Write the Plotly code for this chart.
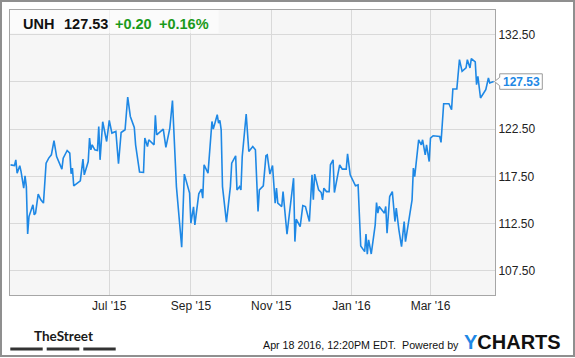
import pandas as pd
import plotly.graph_objects as go

# ---- data (UNH daily close) ----
base_date = "2015-04-16"
day_offsets = [1, 4, 5, 6, 8, 9, 11, 12, 13, 14, 15, 18, 19, 20, 22, 24, 26, 28, 30, 32,
               34, 36, 40, 41, 44, 46, 47, 48, 49, 54, 56, 57, 60, 61, 62, 63, 65, 67, 68, 69,
               71, 74, 76, 78, 81, 83, 85, 88, 90, 92, 95, 96, 99, 102, 103, 105, 106, 110, 111, 112,
               117, 119, 122, 124, 127, 131, 133, 137, 138, 140, 141, 144, 146, 147, 148, 151, 154, 155, 158, 159,
               160, 161, 162, 165, 168, 169, 172, 173, 175, 176, 177, 180, 182, 185, 187, 189, 190, 193, 195, 196,
               198, 200, 202, 203, 204, 207, 208, 211, 216, 217, 218, 221, 223, 225, 228, 230, 231, 232, 235, 237,
               238, 239, 241, 243, 244, 246, 247, 249, 251, 253, 256, 257, 259, 263, 265, 267, 270, 271, 272, 273,
               275, 278, 279, 280, 281, 284, 285, 286, 287, 289, 291, 293, 294, 296, 298, 300, 301, 304, 306, 307,
               308, 311, 313, 314, 316, 317, 319, 320, 322, 327, 328, 330, 334, 336, 337, 340, 342, 344, 347, 348,
               350, 351, 354, 355, 356, 358, 362, 364, 365, 368]
prices = [118.72, 118.65, 119.25, 117.84, 118.62, 118.01, 116.25, 117.56, 116.42, 111.41,
          113.25, 114.49, 113.43, 113.61, 115.62, 115.02, 114.67, 118.90, 119.43, 119.78,
          121.27, 119.60, 118.27, 119.43, 120.24, 119.96, 117.77, 118.37, 116.50, 117.03,
          119.33, 117.66, 119.07, 121.55, 120.31, 120.84, 120.31, 120.24, 122.78, 119.25,
          123.28, 121.19, 123.42, 122.08, 122.25, 118.83, 122.14, 122.43, 125.89, 123.84,
          122.67, 120.84, 117.95, 117.91, 121.55, 120.66, 121.37, 120.84, 123.95, 121.90,
          122.50, 120.56, 122.61, 125.53, 116.42, 110.00, 117.74, 115.73, 112.55, 114.27,
          112.37, 115.65, 116.15, 115.20, 118.72, 117.84, 123.31, 122.50, 124.02, 123.14,
          123.42, 122.43, 116.42, 112.65, 116.42, 118.90, 119.68, 116.07, 116.42, 116.07,
          119.60, 124.09, 120.13, 120.66, 120.31, 113.78, 116.07, 116.50, 119.68, 119.78,
          117.74, 118.65, 114.67, 116.25, 114.67, 114.31, 115.89, 111.38, 117.31, 110.60,
          112.97, 112.19, 114.41, 114.31, 112.72, 117.66, 115.02, 117.74, 116.07, 115.79,
          115.02, 116.25, 115.89, 115.89, 118.72, 119.25, 115.79, 117.48, 118.72, 118.27,
          118.27, 119.89, 117.66, 116.50, 116.60, 110.14, 109.54, 111.41, 109.26, 110.78,
          109.29, 112.37, 114.73, 113.61, 114.31, 113.78, 113.61, 114.31, 111.49, 115.37,
          115.89, 112.72, 114.14, 111.84, 110.07, 112.72, 110.60, 113.25, 115.02, 118.37,
          117.48, 121.37, 120.84, 121.37, 119.78, 120.84, 119.07, 121.55, 121.80, 121.72,
          121.09, 125.18, 125.18, 124.55, 126.74, 126.74, 129.85, 128.61, 128.97, 129.85,
          128.97, 129.95, 129.60, 127.20, 128.08, 125.79, 126.67, 127.91, 127.38, 127.53]

ticker = "UNH"
last_price = prices[-1]
change = "+0.20"
change_pct = "+0.16%"
timestamp_text = "Apr 18 2016, 12:20PM EDT.  Powered by"
x_tick_dates = ["2015-07-01", "2015-09-01", "2015-11-01", "2016-01-01", "2016-03-01"]
x_tick_labels = ["Jul '15", "Sep '15", "Nov '15", "Jan '16", "Mar '16"]
y_tick_values = [107.5, 112.5, 117.5, 122.5, 127.5, 132.5]
x_range = ["2015-04-16 14:00", "2016-04-19 00:00"]
y_range = [104.95, 135.1]

dates = pd.Timestamp(base_date) + pd.to_timedelta(day_offsets, unit="D")
# the last-value flag covers the tick label it sits on
y_tick_text = ["" if abs(v - last_price) < 2 else f"{v:.2f}" for v in y_tick_values]

BLUE = "#1e88e5"
GREEN = "#1a9a1a"
FONT = "Liberation Sans, Arial, sans-serif"

W, H = 575, 358
L, R, T, B = 10, 80, 10, 63
PW, PH = W - L - R, H - T - B


def px_x(px):
    return (px - L) / PW


def px_y(py):
    return (H - B - py) / PH


fig = go.Figure()
fig.add_trace(go.Scatter(x=dates, y=prices, mode="lines",
                         line=dict(color=BLUE, width=1.6), hoverinfo="skip",
                         showlegend=False))

units_per_px = (y_range[1] - y_range[0]) / PH
hb = 7.75 * units_per_px
hc = 4.2 * units_per_px
xl, xt, xr = px_x(499.7), px_x(494.5), px_x(542.3)
yc = last_price
path = (f"M {xl},{yc + hc} L {xt},{yc} L {xl},{yc - hc} L {xl},{yc - hb} "
        f"L {xr},{yc - hb} L {xr},{yc + hb} L {xl},{yc + hb} Z")

shapes = [
    # header box
    dict(type="rect", xref="paper", yref="paper", x0=0, x1=px_x(218.5),
         y0=px_y(33.3), y1=1, fillcolor="rgba(255,255,255,0.6)", line=dict(width=0),
         layer="above"),
    # last value label box
    dict(type="path", xref="paper", yref="y", path=path, fillcolor="white",
         line=dict(color="#9a9a9a", width=1), layer="above"),
    # outer border
    dict(type="rect", xref="paper", yref="paper", x0=px_x(1), x1=px_x(574),
         y0=px_y(356), y1=px_y(1), line=dict(color="#8f8f8f", width=2),
         fillcolor="rgba(0,0,0,0)", layer="above"),
]
# TheStreet bars
for a, b in [(10.3, 42.7), (46.7, 79.3), (83.3, 115.7)]:
    shapes.append(dict(type="rect", xref="paper", yref="paper", x0=px_x(a), x1=px_x(b),
                       y0=px_y(350.5), y1=px_y(347.5), fillcolor="#333333",
                       line=dict(width=0)))

annotations = []
yh = px_y(23.7)
for txt, px, col in [(ticker, 21.5, "#111111"), (f"{last_price:.2f}", 62.5, "#111111"),
                     (change, 113.5, GREEN), (change_pct, 157.5, GREEN)]:
    annotations.append(dict(text=f"<b>{txt}</b>", xref="paper", yref="paper",
                            x=px_x(px), y=yh, xanchor="left", yanchor="middle",
                            showarrow=False, borderpad=0,
                            font=dict(family=FONT, size=14.5, color=col)))
annotations.append(dict(text=f"<b>{last_price:.2f}</b>", xref="paper", yref="y",
                        x=px_x(521.2), y=yc, xanchor="center", yanchor="middle",
                        showarrow=False, borderpad=0,
                        font=dict(family=FONT, size=12, color=BLUE)))
annotations.append(dict(text="<b>TheStreet</b>", xref="paper", yref="paper",
                        x=px_x(63), y=px_y(335.5), xanchor="center", yanchor="middle",
                        showarrow=False, borderpad=0,
                        font=dict(family="Lato, sans-serif", size=13.5,
                                  color="#1a1a1a")))
annotations.append(dict(text=timestamp_text, xref="paper", yref="paper",
                        x=px_x(459.5), y=px_y(344.5), xanchor="right", yanchor="middle",
                        showarrow=False, borderpad=0,
                        font=dict(family=FONT, size=10.7, color="#111111")))
annotations.append(dict(text=f"<b><span style='color:{BLUE}'>Y</span>CHARTS</b>",
                        xref="paper", yref="paper",
                        x=px_x(462.5), y=px_y(341.5), xanchor="left", yanchor="middle",
                        showarrow=False, borderpad=0,
                        font=dict(family=FONT, size=20, color="#111111")))

fig.update_layout(
    width=W, height=H,
    margin=dict(l=L, r=R, t=T, b=B, pad=0),
    paper_bgcolor="white", plot_bgcolor="#f6f6f6",
    font=dict(family=FONT, size=12, color="#222222"),
    xaxis=dict(type="date", range=x_range, tickmode="array", tickvals=x_tick_dates,
               ticktext=x_tick_labels, showgrid=True, gridcolor="#d9d9d9", gridwidth=1,
               showline=True, linecolor="#a6a6a6", linewidth=1, mirror=True,
               ticks="", zeroline=False, tickfont=dict(size=12, color="#222222"),
               fixedrange=True),
    yaxis=dict(side="right", range=y_range, tickmode="array", tickvals=y_tick_values,
               ticktext=y_tick_text,
               showgrid=True, gridcolor="#d9d9d9", gridwidth=1,
               showline=True, linecolor="#a6a6a6", linewidth=1, mirror=True,
               ticks="", zeroline=False, tickfont=dict(size=12, color="#222222"),
               fixedrange=True),
    shapes=shapes, annotations=annotations, showlegend=False,
)

fig.write_html("out.html", config=dict(displayModeBar=False),
               post_script="document.body.style.margin='0';document.body.style.overflow='hidden';")
